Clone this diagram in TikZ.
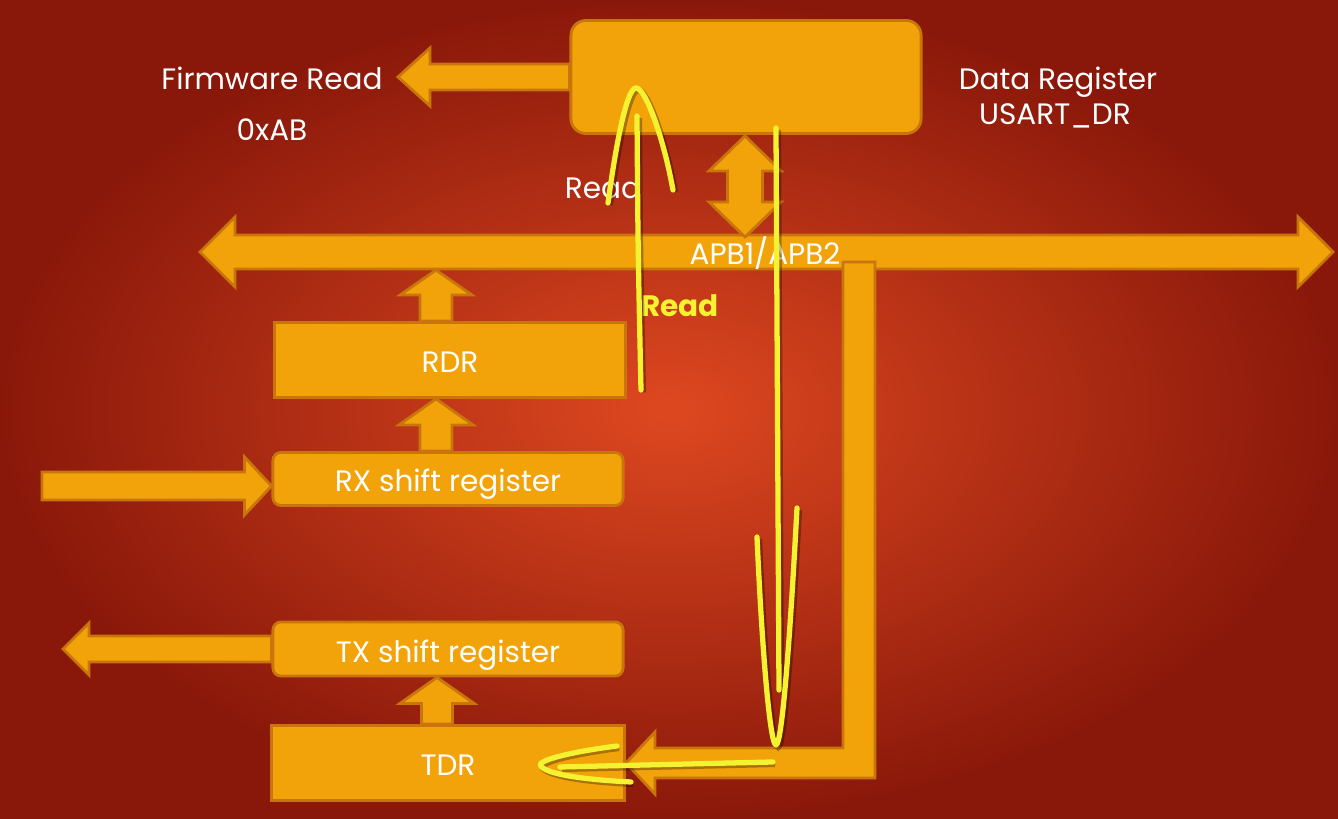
\documentclass[tikz,border=0pt]{standalone}
\usepackage{fontspec}
\setmainfont{Poppins}
\usetikzlibrary{calc,positioning}

\definecolor{bgin}{RGB}{222,72,32}
\definecolor{bgout}{RGB}{138,24,10}
\definecolor{boxfill}{RGB}{243,163,10}
\definecolor{boxline}{RGB}{200,118,12}
\definecolor{penyellow}{RGB}{245,242,50}

\tikzset{
  regbox/.style={draw=boxline, fill=boxfill, line width=0.8pt, inner sep=0pt},
  fatarrow/.style={draw=boxline, fill=boxfill, line width=0.8pt, line join=miter},
  lbl/.style={text=white, font=\fontsize{8.4}{10}\selectfont, text height=1.45ex, text depth=0.1ex},
  scribble/.style={draw=penyellow, line width=1.5pt, line cap=round, line join=round,
    preaction={draw=black, draw opacity=.3, line width=1.7pt,
      transform canvas={shift={(0.6pt,-0.6pt)}}}}
}

% fat arrow: from, to, shaft half width, head half width, head length
\newcommand{\fatarr}[5]{%
  \path ($(#2)!#5!(#1)$) coordinate (fa-c);
  \draw[fatarrow] ($(#1)!#3!90:(#2)$) -- ($(fa-c)!#3!90:(#2)$) -- ($(fa-c)!#4!90:(#2)$)
    -- (#2) -- ($(fa-c)!#4!-90:(#2)$) -- ($(fa-c)!#3!-90:(#2)$) -- ($(#1)!#3!-90:(#2)$) -- cycle;}
% same with a head at both ends
\newcommand{\dblarr}[5]{%
  \path ($(#1)!#5!(#2)$) coordinate (da-a) ($(#2)!#5!(#1)$) coordinate (da-b);
  \draw[fatarrow] (#1) -- ($(da-a)!#4!90:(#2)$) -- ($(da-a)!#3!90:(#2)$) -- ($(da-b)!#3!90:(#2)$)
    -- ($(da-b)!#4!90:(#2)$) -- (#2) -- ($(da-b)!#4!-90:(#2)$) -- ($(da-b)!#3!-90:(#2)$)
    -- ($(da-a)!#3!-90:(#2)$) -- ($(da-a)!#4!-90:(#2)$) -- cycle;}

\begin{document}
\begin{tikzpicture}[x=0.01cm, y=-0.01cm]
    \useasboundingbox (0,0) rectangle (1338,819);
    \shade[inner color=bgin, outer color=bgout] (0,0) rectangle (1338,819);

    % registers
    \node[regbox, rounded corners=0.15cm, minimum width=3.5cm, minimum height=1.13cm] (dr) at (746,77) {};
    \node[regbox, lbl, minimum width=3.5cm, minimum height=0.75cm] (rdr) at (450,360) {RDR};
    \node[regbox, lbl, rounded corners=0.08cm, minimum width=3.5cm, minimum height=0.53cm] (rx) at (448,479) {RX shift register};
    \node[regbox, lbl, rounded corners=0.08cm, minimum width=3.5cm, minimum height=0.54cm] (tx) at (448,649) {TX shift register};
    \node[regbox, lbl, minimum width=3.53cm, minimum height=0.75cm] (tdr) at (448,763) {TDR};

    % free ends
    \coordinate (fwtip) at (398,77);
    \coordinate (dbtop) at (745,136);
    \coordinate (dbbot) at (745,237);
    \coordinate (busL) at (200,252);
    \coordinate (busR) at (1333,252);
    \coordinate (rdrout) at ($(rdr.north)+(-14,0)$);
    \coordinate (rdrtip) at ($(rdrout)+(0,-51)$);
    \coordinate (rxout) at ($(rx.north)+(-12,0)$);
    \coordinate (rdrin) at ($(rdr.south)+(-14,0)$);
    \coordinate (rxsrc) at (42,486);
    \coordinate (rxin) at ($(rx.west)+(0,7)$);
    \coordinate (txtip) at (63,649);
    \coordinate (tdrout) at ($(tdr.north)+(-11,0)$);
    \coordinate (txin) at ($(tx.south)+(-11,0)$);

    % arrows
    \fatarr{dr.west}{fwtip}{0.13cm}{0.29cm}{0.32cm}
    \dblarr{busL}{busR}{0.17cm}{0.35cm}{0.35cm}
    \dblarr{dbtop}{dbbot}{0.175cm}{0.36cm}{0.35cm}
    \fatarr{rdrout}{rdrtip}{0.16cm}{0.36cm}{0.25cm}
    \fatarr{rxout}{rdrin}{0.16cm}{0.37cm}{0.26cm}
    \fatarr{rxsrc}{rxin}{0.14cm}{0.29cm}{0.27cm}
    \fatarr{tx.west}{txtip}{0.13cm}{0.26cm}{0.26cm}
    \fatarr{tdrout}{txin}{0.155cm}{0.37cm}{0.26cm}
    \draw[fatarrow] (tdr.east) -- ++(29,-31) -- ++(0,16) -| (843,262) -- (875,262)
        |- ($(tdr.east)+(29,15)$) -- ++(0,16) -- cycle;

    % labels
    \node[lbl] (fwread) at (272,77) {Firmware Read};
    \node[lbl] (fwval) at (272,128) {0xAB};
    \node[lbl] (drname) at (1058,77) {Data Register};
    \node[lbl] (drreg) at (1055,112) {USART\_DR};
    \node[lbl] (rdlbl) at (603,186) {Read};
    \node[lbl] (buslbl) at (765,252) {APB1/APB2};
    \node[lbl, text=penyellow, font=\bfseries\fontsize{8.4}{10}\selectfont] (rdmark) at (680,304) {Read};

    % hand drawn marks
    \draw[scribble] (608,203) .. controls (618,130) and (628,88) .. (636,88)
        .. controls (646,88) and (664,140) .. (673,190);
    \draw[scribble] (641,390) .. controls (638,250) .. (637,116);
    \draw[scribble] (776,128) -- (779,690);
    \draw[scribble] (757,537) .. controls (762,650) and (770,745) .. (776,745)
        .. controls (782,745) and (790,640) .. (797,508);
    \draw[scribble] (773,762) -- (560,767);
    \draw[scribble] (617,746) .. controls (570,752) and (540,760) .. (540,765)
        .. controls (545,775) and (590,780) .. (631,782);
\end{tikzpicture}
\end{document}
